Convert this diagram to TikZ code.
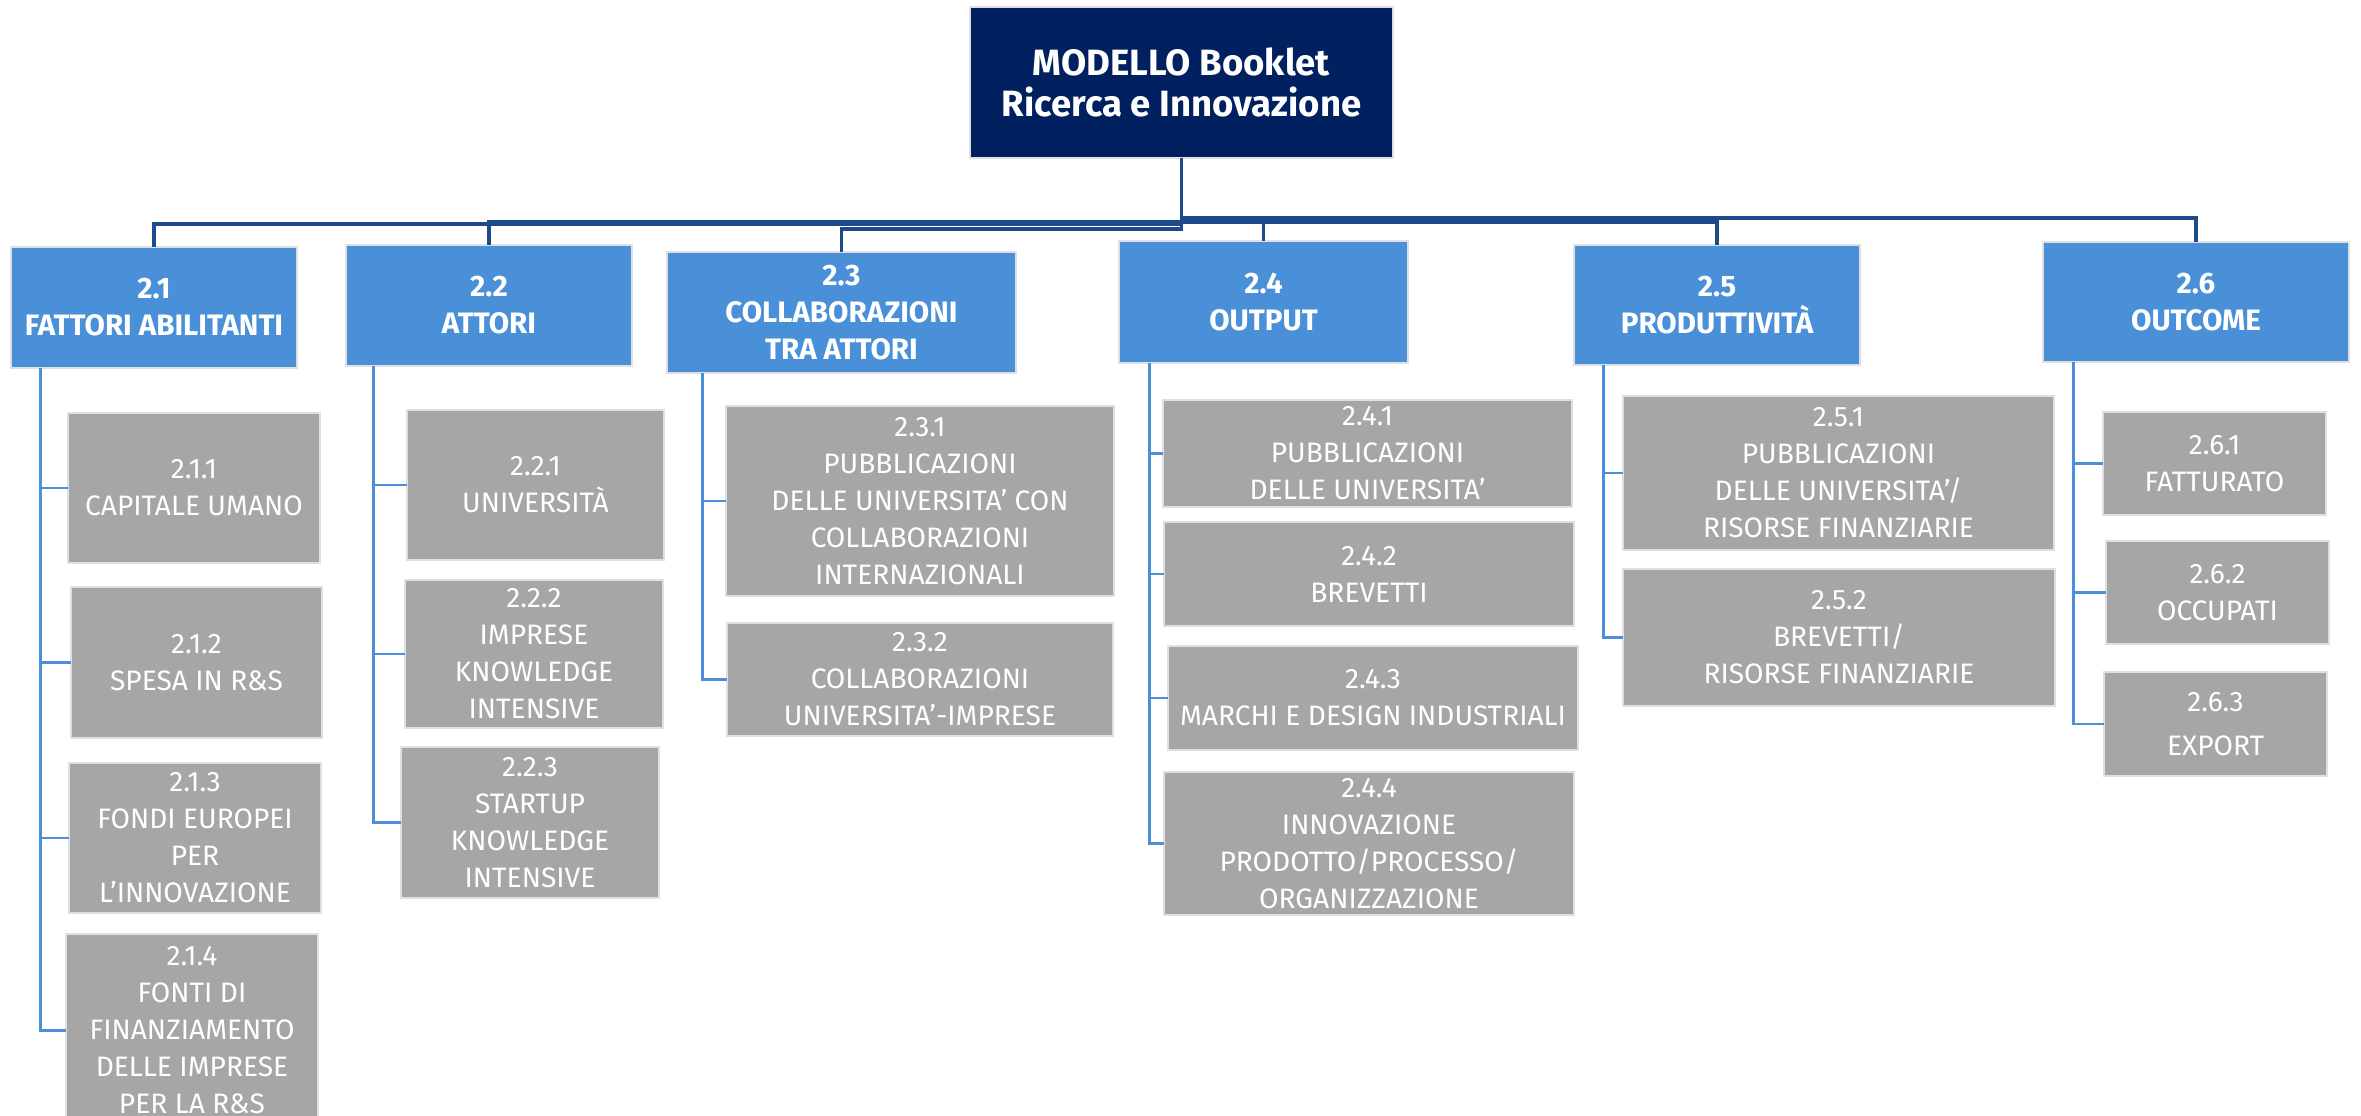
\documentclass[tikz,border=0pt]{standalone}
\usepackage{fontspec}
\setmainfont{Fira Sans}
\definecolor{navy}{RGB}{0,32,96}
\definecolor{hblue}{RGB}{74,144,217}
\definecolor{lgray}{RGB}{166,166,166}
\definecolor{busblue}{RGB}{28,74,140}
\newcommand{\bx}[7]{\node[#6, minimum width={(#4-#2)*0.01cm}, minimum height={(#5-#3)*0.01cm}] (#1) at ({(#2+#4)/2},{(#3+#5)/2}) {#7};}
\begin{document}
\begin{tikzpicture}[x=0.01cm,y=-0.01cm,
  box/.style={rectangle, inner sep=0pt, outer sep=0pt, align=center, text=white, draw=black!12, line width=0.4pt},
  rootbox/.style={box, fill=navy, font=\bfseries\fontsize{10.4}{11.6}\selectfont},
  headbox/.style={box, fill=hblue, font=\bfseries\fontsize{8.4}{10.5}\selectfont},
  leafbox/.style={box, fill=lgray, font=\fontsize{8}{10.5}\selectfont},
  bus/.style={draw=busblue, line width=1pt},
  sub/.style={draw=hblue, line width=0.85pt}]
\clip (0,0) rectangle (2361,1116);
\fill[white] (0,0) rectangle (2361,1116);

\bx{root}{970}{7}{1393}{158}{rootbox}{MODELLO Booklet\\Ricerca e Innovazione}
\bx{p21}{11}{247}{297}{368}{headbox}{2.1\\FATTORI ABILITANTI}
\bx{p22}{346}{245}{632}{366}{headbox}{2.2\\ATTORI}
\bx{p23}{667}{252}{1016}{373}{headbox}{2.3\\COLLABORAZIONI\\TRA ATTORI}
\bx{p24}{1119}{241}{1408}{363}{headbox}{2.4\\OUTPUT}
\bx{p25}{1574}{245}{1860}{365}{headbox}{2.5\\PRODUTTIVITÀ}
\bx{p26}{2043}{242}{2349}{362}{headbox}{2.6\\OUTCOME}

% connectors from root
\draw[bus] (root.south) -- ++(0,66) -| (p21.north);
\draw[bus] (root.south) -- ++(0,64) -| (p22.north);
\draw[bus] (root.south) -- ++(0,71) -| (p23.north);
\draw[bus] (root.south) -- ++(0,60) -| (p24.north);
\draw[bus] (root.south) -- ++(0,64) -| (p25.north);
\draw[bus] (root.south) -- ++(0,60) -| (p26.north);

% leaves
\bx{c211}{68}{413}{320}{563}{leafbox}{2.1.1\\CAPITALE UMANO}
\bx{c212}{71}{587}{322}{738}{leafbox}{2.1.2\\SPESA IN R\&S}
\bx{c213}{69}{763}{321}{913}{leafbox}{2.1.3\\FONDI EUROPEI\\PER\\L’INNOVAZIONE}
\bx{c214}{66}{934}{318}{1126}{leafbox}{2.1.4\\FONTI DI\\FINANZIAMENTO\\DELLE IMPRESE\\PER LA R\&S}

\bx{c221}{407}{410}{664}{560}{leafbox}{2.2.1\\UNIVERSITÀ}
\bx{c222}{405}{580}{663}{728}{leafbox}{2.2.2\\IMPRESE\\KNOWLEDGE\\INTENSIVE}
\bx{c223}{401}{747}{659}{898}{leafbox}{2.2.3\\STARTUP\\KNOWLEDGE\\INTENSIVE}

\bx{c231}{726}{406}{1114}{596}{leafbox}{2.3.1\\PUBBLICAZIONI\\DELLE UNIVERSITA’ CON\\COLLABORAZIONI\\INTERNAZIONALI}
\bx{c232}{727}{623}{1113}{736}{leafbox}{2.3.2\\COLLABORAZIONI\\UNIVERSITA’-IMPRESE}

\bx{c241}{1163}{400}{1572}{507}{leafbox}{2.4.1\\PUBBLICAZIONI\\DELLE UNIVERSITA’}
\bx{c242}{1164}{522}{1574}{626}{leafbox}{2.4.2\\BREVETTI}
\bx{c243}{1168}{646}{1578}{750}{leafbox}{2.4.3\\MARCHI E DESIGN INDUSTRIALI}
\bx{c244}{1164}{772}{1574}{915}{leafbox}{2.4.4\\INNOVAZIONE\\PRODOTTO/PROCESSO/\\ORGANIZZAZIONE}

\bx{c251}{1623}{396}{2054}{550}{leafbox}{2.5.1\\PUBBLICAZIONI\\DELLE UNIVERSITA’/\\RISORSE FINANZIARIE}
\bx{c252}{1623}{569}{2055}{706}{leafbox}{2.5.2\\BREVETTI/\\RISORSE FINANZIARIE}

\bx{c261}{2103}{412}{2326}{515}{leafbox}{2.6.1\\FATTURATO}
\bx{c262}{2106}{541}{2329}{644}{leafbox}{2.6.2\\OCCUPATI}
\bx{c263}{2104}{672}{2327}{776}{leafbox}{2.6.3\\[2pt]EXPORT}

% sub connectors
\foreach \c in {c211,c212,c213,c214} \draw[sub] ([xshift=0.29cm]p21.south west) |- (\c.west);
\foreach \c in {c221,c222,c223} \draw[sub] ([xshift=0.27cm]p22.south west) |- (\c.west);
\foreach \c in {c231,c232} \draw[sub] ([xshift=0.35cm]p23.south west) |- (\c.west);
\foreach \c in {c241,c242,c243,c244} \draw[sub] ([xshift=0.30cm]p24.south west) |- (\c.west);
\foreach \c in {c251,c252} \draw[sub] ([xshift=0.29cm]p25.south west) |- (\c.west);
\foreach \c in {c261,c262,c263} \draw[sub] ([xshift=0.30cm]p26.south west) |- (\c.west);
\end{tikzpicture}
\end{document}
